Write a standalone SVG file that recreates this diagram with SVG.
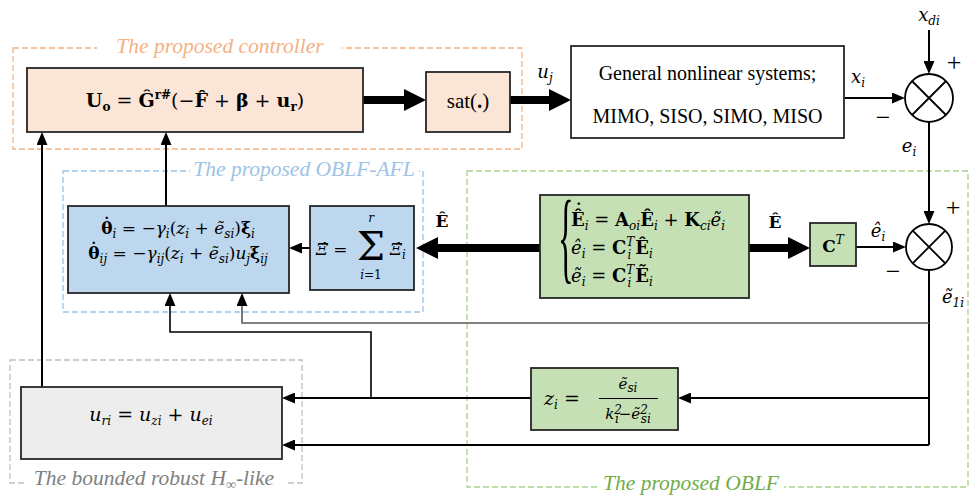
<svg xmlns="http://www.w3.org/2000/svg" width="971" height="496" viewBox="0 0 971 496">
<style>
.box{stroke:#262626;stroke-width:1.8}
.ln{fill:none;stroke:#000;stroke-width:2}
.th{fill:none;stroke:#000;stroke-width:8}
.m{font-family:"DejaVu Serif","Liberation Serif",serif;fill:#000}
.r{font-family:"Liberation Serif","DejaVu Serif",serif;fill:#000}
.i{font-style:italic}
.b{font-weight:bold}
.s{font-size:12px}
.t{font-family:"Liberation Serif","DejaVu Serif",serif;font-style:italic;font-size:21.5px}
.dash{fill:none;stroke-width:1.3;stroke-dasharray:6 3}
</style>
<defs>
<marker id="a" markerUnits="userSpaceOnUse" markerWidth="13" markerHeight="11" refX="0" refY="5.5" orient="auto"><path d="M0,0 L13,5.5 L0,11 z" fill="#000"/></marker>
<marker id="A" markerUnits="userSpaceOnUse" markerWidth="22" markerHeight="22" refX="0" refY="11" orient="auto"><path d="M0,0 L22,11 L0,22 z" fill="#000"/></marker>
</defs>
<rect width="971" height="496" fill="#fff"/>

<g id="frames">
<rect class="dash" x="13" y="48" width="509" height="101" stroke="#F4B183"/>
<rect x="97" y="38" width="245" height="18" fill="#fff"/>
<text class="t" x="220" y="53" text-anchor="middle" fill="#F4B183">The proposed controller</text>
<rect class="dash" x="63" y="171" width="360" height="141" stroke="#9DC3E6"/>
<rect x="190" y="160" width="229" height="18" fill="#fff"/>
<text class="t" x="304" y="176" text-anchor="middle" fill="#9DC3E6">The proposed OBLF-AFL</text>
<rect class="dash" x="467" y="171" width="501" height="316" stroke="#A9D18E"/>
<rect x="597" y="475" width="187" height="18" fill="#fff"/>
<text class="t" x="691" y="490" text-anchor="middle" fill="#70AD47">The proposed OBLF</text>
<rect class="dash" x="10" y="360" width="292" height="123" stroke="#BFBFBF"/>
<rect x="27" y="470" width="258" height="20" fill="#fff"/>
<text class="t" x="154" y="485" text-anchor="middle" fill="#808080">The bounded robust H<tspan font-size="14" dy="4">∞</tspan><tspan dy="-4">-like</tspan></text>
</g>

<g id="connectors">
<path class="th" d="M363,100 H404" marker-end="url(#A)"/>
<path class="th" d="M510,100 H549" marker-end="url(#A)"/>
<path class="th" d="M749,248 H788" marker-end="url(#A)"/>
<path class="th" d="M540,248 H438" marker-end="url(#A)"/>
<path class="ln" d="M845,98 H892" marker-end="url(#a)"/>
<path class="ln" d="M929,30 V61" marker-end="url(#a)"/>
<path class="ln" d="M929,122 V211" marker-end="url(#a)"/>
<path class="ln" d="M856,247 H893" marker-end="url(#a)"/>
<path class="ln" d="M310,248 H302" marker-end="url(#a)"/>
<path class="ln" d="M166,206 V145" marker-end="url(#a)"/>
<path class="ln" d="M42,387 V145" marker-end="url(#a)"/>
<path class="ln" d="M929,270 V445"/>
<path class="ln" d="M929,323 H242 V306" style="stroke:#595959;stroke-width:1.6" marker-end="url(#a)"/>
<path class="ln" d="M929,398 H691" marker-end="url(#a)"/>
<path class="ln" d="M531,398 H295" marker-end="url(#a)"/>
<path class="ln" d="M371,398 V332 H170 V306" style="stroke-width:1.6" marker-end="url(#a)"/>
<path class="ln" d="M929,445 H295" marker-end="url(#a)"/>
<text class="m i" x="545" y="78" text-anchor="middle" style="font-size:18px">u<tspan class="s" dy="4">j</tspan></text>
<text class="m i" x="858" y="83" text-anchor="middle" style="font-size:18px">x<tspan class="s" dy="4">i</tspan></text>
<text class="m i" x="929" y="21" text-anchor="middle" style="font-size:18px">x<tspan class="s" dy="4">di</tspan></text>
<text class="m i" x="909" y="152" text-anchor="middle" style="font-size:18px">e<tspan class="s" dy="4">i</tspan></text>
<text class="m i" x="878" y="237" text-anchor="middle" style="font-size:18px">ê<tspan class="s" dy="4">i</tspan></text>
<text class="m i" x="953" y="303" text-anchor="middle" style="font-size:18px">ẽ<tspan class="s" dy="4">1i</tspan></text>
<text class="m b" x="442" y="227" text-anchor="middle" style="font-size:17px">Ê</text>
<text class="m b" x="775" y="228" text-anchor="middle" style="font-size:17px">Ê</text>
<text class="r" x="954" y="71" text-anchor="middle" style="font-size:26px">+</text>
<text class="r" x="883" y="126" text-anchor="middle" style="font-size:26px">−</text>
<text class="r" x="953" y="216" text-anchor="middle" style="font-size:26px">+</text>
<text class="r" x="893" y="280" text-anchor="middle" style="font-size:26px">−</text>
</g>

<g id="controller">
<rect class="box" x="27" y="68" width="336" height="64" fill="#FBE5D6"/>
<text class="m" x="195" y="107" text-anchor="middle" style="font-size:19px"><tspan class="b">U</tspan><tspan class="b s" dy="4">o</tspan><tspan dy="-4"> = </tspan><tspan class="b">Ĝ</tspan><tspan class="b s" dy="-8">r#</tspan><tspan dy="8">(−</tspan><tspan class="b">F̂</tspan><tspan> + </tspan><tspan class="b">β</tspan><tspan> + </tspan><tspan class="b">u</tspan><tspan class="b s" dy="4">r</tspan><tspan dy="-4">)</tspan></text>
</g>

<g id="sat">
<rect class="box" x="426" y="72" width="84" height="60" fill="#FBE5D6"/>
<text class="r" x="468" y="108" text-anchor="middle" style="font-size:21px">sat(<tspan class="b">.</tspan>)</text>
</g>

<g id="system">
<rect class="box" x="571" y="46" width="273" height="92" fill="#fff"/>
<text class="r" x="707.5" y="80" text-anchor="middle" style="font-size:20px">General nonlinear systems;</text>
<text class="r" x="707.5" y="123" text-anchor="middle" style="font-size:20px">MIMO, SISO, SIMO, MISO</text>
</g>

<g id="sum1">
<circle cx="929" cy="98" r="24" fill="#fff" stroke="#000" stroke-width="1.8"/>
<path d="M912,81 L946,115 M946,81 L912,115" stroke="#000" stroke-width="1.8"/>
</g>

<g id="sum2">
<circle cx="929" cy="247" r="23" fill="#fff" stroke="#000" stroke-width="1.8"/>
<path d="M912.7,230.7 L945.3,263.3 M945.3,230.7 L912.7,263.3" stroke="#000" stroke-width="1.8"/>
</g>

<g id="adaptive">
<rect class="box" x="68" y="206" width="221" height="87" fill="#BDD7EE"/>
<text class="m" x="178" y="234" text-anchor="middle" style="font-size:17px"><tspan class="b">θ</tspan><tspan class="b" dx="-10" dy="-4">˙</tspan><tspan class="i s" dx="1.5" dy="8">i</tspan><tspan dy="-4"> = −</tspan><tspan class="i">γ</tspan><tspan class="i s" dy="4">i</tspan><tspan dy="-4">(</tspan><tspan class="i">z</tspan><tspan class="i s" dy="4">i</tspan><tspan dy="-4"> + </tspan><tspan class="i">ẽ</tspan><tspan class="i s" dy="4">si</tspan><tspan dy="-4">)</tspan><tspan class="b">ξ</tspan><tspan class="i s" dy="4">i</tspan></text>
<text class="m" x="178" y="259" text-anchor="middle" style="font-size:17px"><tspan class="b">θ</tspan><tspan class="b" dx="-10" dy="-4">˙</tspan><tspan class="i s" dx="1.5" dy="8">ij</tspan><tspan dy="-4"> = −</tspan><tspan class="i">γ</tspan><tspan class="i s" dy="4">ij</tspan><tspan dy="-4">(</tspan><tspan class="i">z</tspan><tspan class="i s" dy="4">i</tspan><tspan dy="-4"> + </tspan><tspan class="i">ẽ</tspan><tspan class="i s" dy="4">si</tspan><tspan dy="-4">)</tspan><tspan class="i">u</tspan><tspan class="i s" dy="4">j</tspan><tspan class="b" dy="-4">ξ</tspan><tspan class="i s" dy="4">ij</tspan></text>
</g>

<g id="xisum">
<rect class="box" x="310" y="206" width="104" height="84" fill="#BDD7EE"/>
<text class="m i" x="316" y="255" style="font-size:17px">Ξ̂ =</text>
<text class="m" x="371" y="260" text-anchor="middle" style="font-size:40px">Σ</text>
<text class="m i" x="371" y="222" text-anchor="middle" style="font-size:12px">r</text>
<text class="m" x="371" y="279" text-anchor="middle" style="font-size:12px"><tspan class="i">i</tspan>=1</text>
<text class="m i" x="390" y="255" style="font-size:17px">Ξ̂<tspan class="s" dy="4">i</tspan></text>
</g>

<g id="observer">
<rect class="box" x="540" y="195" width="209" height="103" fill="#C5E0B4"/>
<text class="r" transform="translate(558,270) scale(0.32,1)" style="font-size:102px">{</text>
<text class="m" x="571" y="226" style="font-size:18px"><tspan class="b">Ê</tspan><tspan class="b" dx="-10.5" dy="-9">˙</tspan><tspan class="i s" dx="1.5" dy="13">i</tspan><tspan dy="-4"> = </tspan><tspan class="b">A</tspan><tspan class="i s" dy="4">oi</tspan><tspan class="b" dy="-4">Ê</tspan><tspan class="i s" dy="4">i</tspan><tspan dy="-4"> + </tspan><tspan class="b">K</tspan><tspan class="i s" dy="4">ci</tspan><tspan class="i" dy="-4">ẽ</tspan><tspan class="i s" dy="4">i</tspan></text>
<text class="m" x="571" y="254" style="font-size:18px"><tspan class="i">ê</tspan><tspan class="i s" dy="4">i</tspan><tspan dy="-4"> = </tspan><tspan class="b">C</tspan><tspan class="i s" dy="-8">T</tspan><tspan class="i s" dx="-7" dy="13">i</tspan><tspan class="b" dx="4" dy="-5">Ê</tspan><tspan class="i s" dy="4">i</tspan></text>
<text class="m" x="571" y="282" style="font-size:18px"><tspan class="i">ẽ</tspan><tspan class="i s" dy="4">i</tspan><tspan dy="-4"> = </tspan><tspan class="b">C</tspan><tspan class="i s" dy="-8">T</tspan><tspan class="i s" dx="-7" dy="13">i</tspan><tspan class="b" dx="4" dy="-5">Ẽ</tspan><tspan class="i s" dy="4">i</tspan></text>
</g>

<g id="ct">
<rect class="box" x="810" y="223" width="46" height="43" fill="#C5E0B4"/>
<text class="m" x="833" y="252" text-anchor="middle" style="font-size:17px"><tspan class="b">C</tspan><tspan class="i s" dy="-8">T</tspan></text>
</g>

<g id="zblf">
<rect class="box" x="531" y="368" width="147" height="62" fill="#C5E0B4"/>
<text class="m" x="544" y="405" style="font-size:19px"><tspan class="i">z</tspan><tspan class="i s" dy="4">i</tspan><tspan dy="-4"> =</tspan></text>
<text class="m i" x="628" y="389" text-anchor="middle" style="font-size:15px">ẽ<tspan class="s" dy="3">si</tspan></text>
<path d="M599,398.5 H658" stroke="#000" stroke-width="1.2"/>
<text class="m" x="628" y="419" text-anchor="middle" style="font-size:15px"><tspan class="i">k</tspan><tspan class="i s" dy="-5">2</tspan><tspan class="i s" dx="-7" dy="9">i</tspan><tspan dy="-4">−</tspan><tspan class="i">ẽ</tspan><tspan class="i s" dy="-5">2</tspan><tspan class="i s" dx="-7" dy="9">si</tspan></text>
</g>

<g id="robust">
<rect class="box" x="21" y="387" width="261" height="72" fill="#EDEDED"/>
<text class="m i" x="151" y="421" text-anchor="middle" style="font-size:19px">u<tspan class="s" dy="4">ri</tspan><tspan dy="-4"> = u</tspan><tspan class="s" dy="4">zi</tspan><tspan dy="-4"> + u</tspan><tspan class="s" dy="4">ei</tspan></text>
</g>
</svg>
